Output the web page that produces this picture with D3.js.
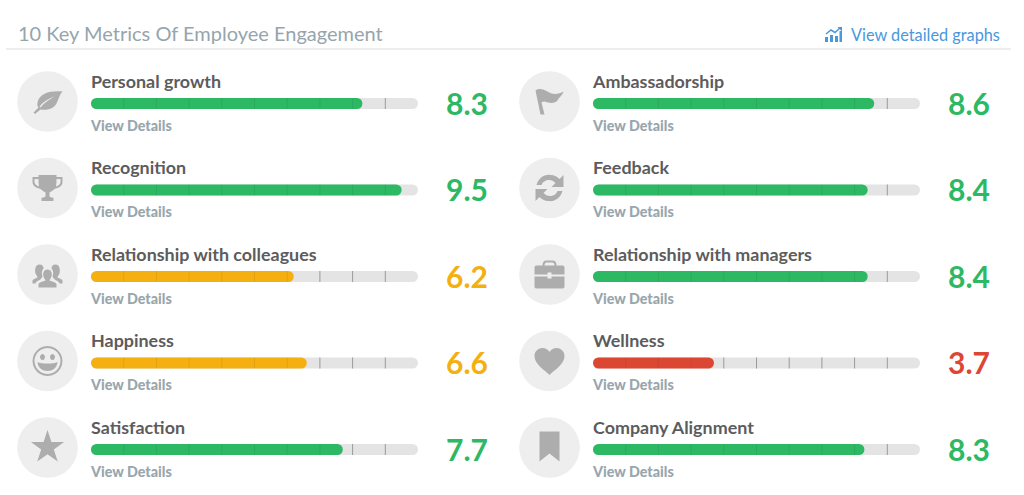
<!DOCTYPE html>
<html>
<head>
<meta charset="utf-8">
<style>
html, body { margin: 0; padding: 0; background: #fff; }
svg { display: block; }
text { font-family: Lato, sans-serif; }
.title { font-size: 20px; fill: #96a5ac; }
.link { font-size: 16.3px; fill: #4a98dc; }
.name { font-size: 17.9px; font-weight: 700; fill: #5c5c5c; }
.more { font-size: 14.3px; font-weight: 900; fill: #98a6ad; }
.score { font-size: 30px; font-weight: 700; text-anchor: middle; }
.track { fill: #e4e4e4; }
.icon { fill: #adadad; }
</style>
</head>
<body>
<script src="https://d3js.org/d3.v7.min.js"></script>
<script>

var titleText = "10 Key Metrics Of Employee Engagement";
var linkText = "View detailed graphs";
var detailText = "View Details";

var leftNames = ["Personal growth", "Recognition", "Relationship with colleagues", "Happiness", "Satisfaction"];
var leftValues = [8.3, 9.5, 6.2, 6.6, 7.7];
var leftIcons = ["leaf", "trophy", "people", "smile", "star"];

var rightNames = ["Ambassadorship", "Feedback", "Relationship with managers", "Wellness", "Company Alignment"];
var rightValues = [8.6, 8.4, 8.4, 3.7, 8.3];
var rightIcons = ["flag", "refresh", "briefcase", "heart", "bookmark"];

var tickValues = [1, 2, 3, 4, 5, 6, 7, 8, 9];

var width = 1024, height = 495;
var svg = d3.select("body").append("svg").attr("width", width).attr("height", height);

// bar length, 0-10 score
var x = d3.scaleLinear().domain([0, 10]).range([0, 327]);
// rows, y is the middle of the bar
var y = d3.scalePoint().domain(d3.range(5)).range([103.5, 449.5]);
// columns
var col = d3.scaleOrdinal().domain(["left", "right"]).range([91, 593]);
var barH = 11;

function scoreColor(v) {
  if (v < 5) return "#dc4733";
  if (v < 7) return "#f3b010";
  return "#2db863";
}

var star = d3.symbol().type(d3.symbolStar).size(340)();
var iconPaths = {
  leaf: "M15,-10C4,-11 -8,-9 -10,1C-10.500,3 -10,5 -9,6L-14,11L-12.500,12.500L-7,8C-2,9 6,8 9,2C11,-2 12,-7 15,-10ZM-8,5C-4,0 1,-3 7,-5C2,-2 -3,1 -7,6Z",
  trophy: "M-9,-13H9V-11H15V-6C15,-2 11,0 7,1C5,3 3,4 2,4.500V8C2,9 4,9.500 6,10V13H-6V10C-4,9.500 -2,9 -2,8V4.500C-3,4 -5,3 -7,1C-11,0 -15,-2 -15,-6V-11H-9ZM-13,-9V-6C-13,-4 -11,-2.500 -8.500,-1.500C-9,-4 -9,-6.500 -9,-9ZM13,-9H9C9,-6.500 9,-4 8.500,-1.500C11,-2.500 13,-4 13,-6Z",
  people: "M0,-5C4,-5 5,-1 4,2C3.500,4 2,5 2,6C5,7 9,8 9,10V13H-9V10C-9,8 -5,7 -2,6C-2,5 -3.500,4 -4,2C-5,-1 -4,-5 0,-5ZM-8,-10C-5,-10 -4,-8 -4,-6C-6,-4 -6,-1 -5,2C-6,4 -7,5 -9,6C-11,7 -12,8 -12,9H-15V6C-15,5 -12,4 -10,3C-10,2 -11,1 -12,-1C-13,-5 -12,-10 -8,-10ZM8,-10C12,-10 13,-5 12,-1C11,1 10,2 10,3C12,4 15,5 15,6V9H12C12,8 11,7 9,6C7,5 6,4 5,2C6,-1 6,-4 4,-6C4,-8 5,-10 8,-10Z",
  smile: "M0,-15A15,15 0 1,1 -0.010,-15ZM0,-13A13,13 0 1,0 0.010,-13ZM-5,-7A2.500,3 0 1,1 -5.010,-7ZM5,-7A2.500,3 0 1,1 4.990,-7ZM-10,1C-6,3 6,3 10,1C9.500,7 5,10 0,10C-5,10 -9.500,7 -10,1Z",
  star: star,
  flag: "M-14,-11C-8,-15 -3,-10 2,-8C6,-7 11,-8 14,-10C13,-6 9,-4 8,-1C4,3 -1,1 -5,0C-6,0 -7,0 -8,1L-5,13H-9L-14,-11Z",
  refresh: "M-13,-3C-11,-10 -5,-14 1,-13C5,-13 8,-11 10,-9L14,-13V-1H2L6,-5C4,-7 2,-8 0,-8C-4,-8 -7,-6 -8,-3ZM13,3C11,10 5,14 -1,13C-5,13 -8,11 -10,9L-14,13V1H-2L-6,5C-4,7 -2,8 0,8C4,8 7,6 8,3Z",
  briefcase: "M-7,-9C-7,-13 -5,-14 -3,-14H3C5,-14 7,-13 7,-9H13C14.500,-9 15,-8 15,-7V0H2V-2H-2V0H-15V-7C-15,-8 -14.500,-9 -13,-9ZM-5,-9H5C5,-11 4,-12 3,-12H-3C-4,-12 -5,-11 -5,-9ZM-15,2H-2V4H2V2H15V12C15,13 14.500,14 13,14H-13C-14.500,14 -15,13 -15,12Z",
  heart: "M0,14C-5,9 -15,3 -15,-5C-15,-10 -11,-13 -7,-13C-4,-13 -1,-11 0,-9C1,-11 4,-13 7,-13C11,-13 15,-10 15,-5C15,3 5,9 0,14Z",
  bookmark: "M-10,-16H10V14L0,6L-10,14Z"
};

// header
svg.append("text").attr("class", "title").attr("x", 18).attr("y", 41).text(titleText);
svg.append("line").attr("x1", 6).attr("x2", 1011).attr("y1", 49).attr("y2", 49)
  .attr("stroke", "#dcdfe0").attr("stroke-width", 1.2);
svg.append("text").attr("class", "link").attr("x", 851).attr("y", 41).text(linkText);

var chartIcon = svg.append("g").attr("transform", "translate(825,27)").attr("fill", "#4a98dc");
chartIcon.append("path").attr("d", "M0,10H3V15H0ZM5,8H8V15H5ZM10,9H13V15H10ZM14.500,4H17V15H14.500Z");
chartIcon.append("path").attr("d", "M1,7L6,3L10,5.500L15,1").attr("fill", "none").attr("stroke", "#4a98dc").attr("stroke-width", 1.5);
chartIcon.append("path").attr("d", "M12.500,0H17V4.500Z");

function drawColumn(side, names, values, icons) {
  var left = col(side);
  var rows = svg.append("g").selectAll("g").data(names).join("g")
    .attr("transform", function(d, i) { return "translate(" + left + "," + y(i) + ")"; });

  rows.append("circle").attr("cx", -43.5).attr("cy", -2).attr("r", 30.300).attr("fill", "#eeeeee");
  rows.append("path").attr("class", "icon")
    .attr("fill-rule", "evenodd")
    .attr("transform", "translate(-43.5,-2)")
    .attr("d", function(d, i) { return iconPaths[icons[i]]; });

  rows.append("text").attr("class", "name").attr("y", -16).text(function(d) { return d; });

  rows.append("rect").attr("class", "track")
    .attr("y", -barH / 2).attr("width", x(10)).attr("height", barH).attr("rx", barH / 2);
  rows.append("rect")
    .attr("y", -barH / 2).attr("width", function(d, i) { return x(values[i]); })
    .attr("height", barH).attr("rx", barH / 2)
    .attr("fill", function(d, i) { return scoreColor(values[i]); });

  // scale marks run across the whole bar
  rows.each(function(d, i) {
    var v = values[i];
    d3.select(this).selectAll("line").data(tickValues).join("line")
      .attr("x1", function(t) { return x(t); }).attr("x2", function(t) { return x(t); })
      .attr("y1", -barH / 2).attr("y2", barH / 2)
      .attr("stroke", function(t) { return t < v ? "#000" : "#9a9a9a"; })
      .attr("stroke-opacity", function(t) { return t < v ? 0.07 : 1; });
  });

  rows.append("text").attr("class", "more").attr("y", 27).text(detailText);
  rows.append("text").attr("class", "score").attr("x", 376).attr("y", 11)
    .attr("fill", function(d, i) { return scoreColor(values[i]); })
    .text(function(d, i) { return values[i].toFixed(1); });
}

drawColumn("left", leftNames, leftValues, leftIcons);
drawColumn("right", rightNames, rightValues, rightIcons);

</script>
</body>
</html>
